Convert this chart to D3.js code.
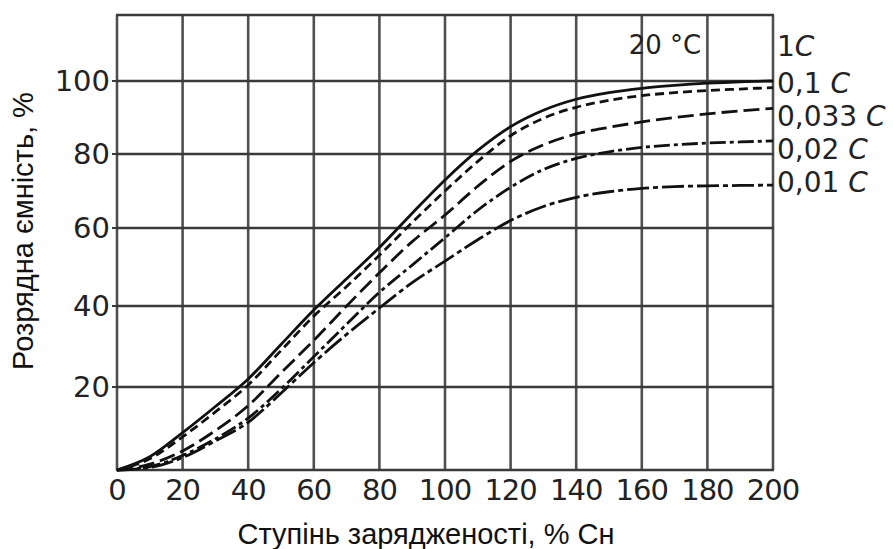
<!DOCTYPE html>
<html>
<head>
    <meta charset="utf-8">
    <title>Розрядна ємність</title>
    <script src="https://d3js.org/d3.v7.min.js"></script>
    <style>
        body { margin: 0; background: #fff; }
    </style>
</head>
<body>
    <div id="chart"></div>

    <script>
        // ступінь зарядженості, % Сн
        const charge = [0, 10, 20, 30, 40, 50, 60, 70, 80, 90, 100, 110, 120, 130, 140, 150, 160, 170, 180, 190, 200];

        // розрядна ємність, % — по одній кривій на струм заряду
        const cap1C    = [0, 3.2, 9, 15.3, 22, 30.5, 39, 47, 55, 64, 73, 81, 87.5, 92, 95, 96.8, 98, 98.8, 99.4, 99.8, 100];
        const cap01C   = [0, 2.7, 8, 14, 20.5, 29, 37.5, 45, 53, 61.5, 70, 78, 85, 89.8, 92.8, 94.7, 96, 96.8, 97.4, 97.8, 98.2];
        const cap0033C = [0, 1.4, 4.6, 9.5, 15.5, 23.5, 31.5, 40, 48.5, 56.5, 63.5, 71.3, 78, 82.5, 85.5, 87.3, 88.8, 90, 91, 91.8, 92.5];
        const cap002C  = [0, 0.8, 3.5, 7.5, 12.5, 19.5, 27.5, 35.5, 43.5, 50.5, 57.5, 64.8, 71, 75.8, 78.8, 80.6, 81.8, 82.5, 83, 83.3, 83.6];
        const cap001C  = [0, 0.6, 3, 7, 11.5, 18.5, 26, 33, 39.5, 46, 51.5, 57, 62, 65.8, 68.3, 69.8, 70.7, 71.2, 71.4, 71.5, 71.6];

        const seriesNames = ["1C", "0,1 C", "0,033 C", "0,02 C", "0,01 C"];
        const seriesValues = [cap1C, cap01C, cap0033C, cap002C, cap001C];
        const labelLevels = [109.5, 99.5, 90.5, 81.5, 72.5];

        const xTicks = [0, 20, 40, 60, 80, 100, 120, 140, 160, 180, 200];
        const yTicks = [20, 40, 60, 80, 100];

        const width = 893, height = 549;
        const dashes = [null, "9,5", "16,6", "16,4,4,4", "22,4,5,4"];

        const svg = d3.select("#chart").append("svg")
            .attr("width", width)
            .attr("height", height)
            .style("font-family", "'DejaVu Sans', sans-serif");

        svg.append("rect").attr("width", width).attr("height", height).attr("fill", "#fff");

        const x = d3.scaleLinear().domain([0, 200]).range([117, 773]);
        // the scanned grid is not quite even, so the scale follows it
        const y = d3.scaleLinear()
            .domain([0, 20, 40, 60, 80, 100, 118])
            .range([470, 387, 306, 228, 154, 81, 15]);

        // grid
        svg.append("g").selectAll("line")
            .data(xTicks)
            .enter().append("line")
            .attr("x1", d => x(d)).attr("x2", d => x(d))
            .attr("y1", y(118)).attr("y2", y(0))
            .attr("stroke", "#505050")
            .attr("stroke-width", 2.6);

        svg.append("g").selectAll("line")
            .data(yTicks.concat([0, 118]))
            .enter().append("line")
            .attr("x1", x(0) - 1).attr("x2", x(200) + 1)
            .attr("y1", d => y(d)).attr("y2", d => y(d))
            .attr("stroke", "#3a3a3a")
            .attr("stroke-width", 2.6);

        // little ticks on the left edge
        svg.append("g").selectAll("line")
            .data(yTicks)
            .enter().append("line")
            .attr("x1", x(0) - 5).attr("x2", x(0))
            .attr("y1", d => y(d)).attr("y2", d => y(d))
            .attr("stroke", "#3a3a3a")
            .attr("stroke-width", 2);

        // tick labels
        svg.append("g").selectAll("text")
            .data(yTicks)
            .enter().append("text")
            .attr("x", 110)
            .attr("y", d => y(d))
            .attr("dy", "0.36em")
            .attr("text-anchor", "end")
            .attr("font-size", 29)
            .attr("fill", "#222")
            .text(d => d);

        svg.append("g").selectAll("text")
            .data(xTicks)
            .enter().append("text")
            .attr("x", d => x(d))
            .attr("y", 500)
            .attr("text-anchor", "middle")
            .attr("font-size", 29)
            .attr("letter-spacing", -1)
            .attr("fill", "#222")
            .text(d => d);

        // curves
        const line = d3.line()
            .x((d, i) => x(charge[i]))
            .y(d => y(d))
            .curve(d3.curveMonotoneX);

        svg.append("g").selectAll("path")
            .data(seriesValues)
            .enter().append("path")
            .attr("d", d => line(d))
            .attr("fill", "none")
            .attr("stroke", "#111")
            .attr("stroke-width", 2.8)
            .attr("stroke-dasharray", (d, i) => dashes[i]);

        // series labels on the right
        const lbl = svg.append("g").selectAll("text")
            .data(seriesNames)
            .enter().append("text")
            .attr("x", x(200) + 4)
            .attr("y", (d, i) => y(labelLevels[i]))
            .attr("dy", "0.36em")
            .attr("font-size", 28)
            .attr("fill", "#222");
        lbl.append("tspan").text(d => d.slice(0, -1));
        lbl.append("tspan").attr("font-style", "italic").text(d => d.slice(-1));

        svg.append("text")
            .attr("x", x(156))
            .attr("y", y(110))
            .attr("dy", "0.36em")
            .attr("font-size", 26)
            .attr("fill", "#222")
            .text("20 °C");

        // axis titles
        svg.append("text")
            .attr("x", 426)
            .attr("y", 544)
            .attr("text-anchor", "middle")
            .attr("font-family", "'Liberation Sans', Arial, sans-serif")
            .attr("font-size", 29)
            .attr("fill", "#111")
            .text("Ступінь зарядженості, % Сн");

        svg.append("text")
            .attr("transform", "translate(33,231) rotate(-90)")
            .attr("text-anchor", "middle")
            .attr("font-family", "'Liberation Sans', Arial, sans-serif")
            .attr("font-size", 29)
            .attr("fill", "#111")
            .text("Розрядна ємність, %");
    </script>
</body>
</html>
